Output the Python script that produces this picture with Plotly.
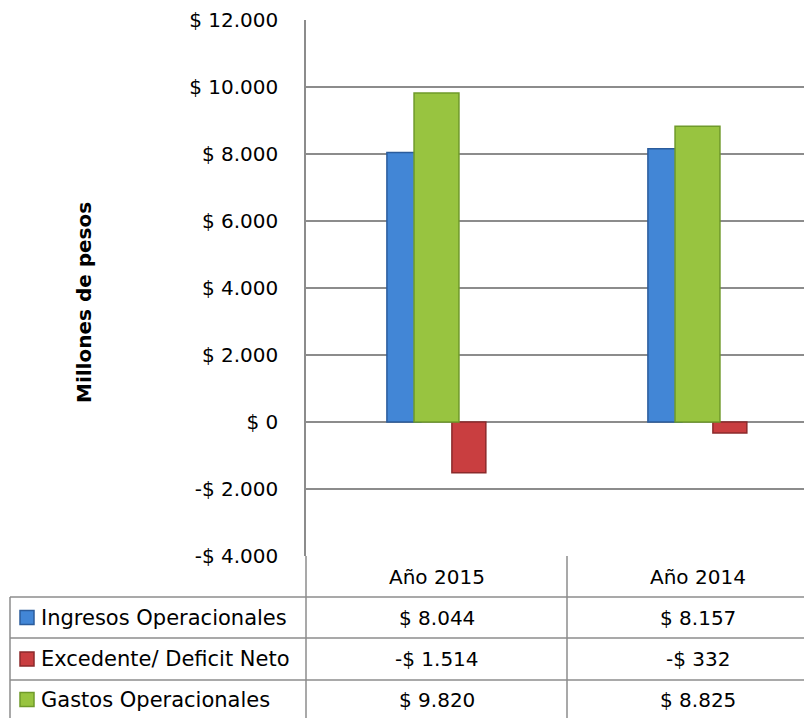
import plotly.graph_objects as go

categories = ["Año 2015", "Año 2014"]
series_names = ["Ingresos Operacionales", "Excedente/ Deficit Neto", "Gastos Operacionales"]
ingresos = [8044, 8157]
excedente = [-1514, -332]
gastos = [9820, 8825]
tick_values = [-4000, -2000, 0, 2000, 4000, 6000, 8000, 10000, 12000]

series_values = [ingresos, excedente, gastos]
colors = ["#4286d6", "#c93e40", "#98c440"]
borders = ["#2b5c9c", "#8c2a2b", "#6f9a2a"]
offsets = [-0.19, 0.059, -0.086]
widths = [0.13, 0.13, 0.172]


def fmt(v):
    s = f"{abs(v):,}".replace(",", ".")
    return ("-$ " if v < 0 else "$ ") + s


FONT = "DejaVu Sans"
PAGE = 8  # body margin of the page
W, H = 812, 710
L, T, B = 298, 12, 162
plot_w = W - L
plot_h = H - T - B
X0 = L + PAGE          # screen x of plot left
Y0 = H - B + PAGE      # screen y of plot bottom


def px(sx):
    return (sx - X0) / plot_w


def py(sy):
    return (Y0 - sy) / plot_h


fig = go.Figure()
xpos = list(range(len(categories)))
for name, vals, c, bc, off, wd in zip(series_names, series_values, colors, borders, offsets, widths):
    fig.add_trace(go.Bar(
        x=xpos, y=vals, name=name, offset=off, width=wd,
        marker=dict(color=c, line=dict(color=bc, width=1.5)),
        showlegend=False,
    ))

shapes = []
line = dict(color="#8c8c8c", width=1.5)
for yy in [597, 638, 680]:
    shapes.append(dict(type="line", xref="paper", yref="paper", x0=px(10), x1=1, y0=py(yy), y1=py(yy), line=line))
shapes.append(dict(type="line", xref="paper", yref="paper", x0=px(10), x1=px(10), y0=py(597), y1=py(720), line=line))
shapes.append(dict(type="line", xref="paper", yref="paper", x0=0, x1=0, y0=py(556), y1=py(720), line=line))
shapes.append(dict(type="line", xref="x", yref="paper", x0=0.5, x1=0.5, y0=py(556), y1=py(720), line=line))

row_centers = [617.5, 659, 699.5]
annotations = []
for cat_i, cat in enumerate(categories):
    annotations.append(dict(text=cat, xref="x", yref="paper", x=cat_i, y=py(577), showarrow=False,
                            xanchor="center", yanchor="middle", font=dict(family=FONT, size=20, color="#000")))
for r, (name, vals, c, bc) in enumerate(zip(series_names, series_values, colors, borders)):
    yc = row_centers[r]
    shapes.append(dict(type="rect", xref="paper", yref="paper", x0=px(20), x1=px(34), y0=py(yc - 7), y1=py(yc + 7),
                       fillcolor=c, line=dict(color=bc, width=1.5)))
    annotations.append(dict(text=name, xref="paper", yref="paper", x=px(39), y=py(yc), showarrow=False,
                            xanchor="left", yanchor="middle", font=dict(family=FONT, size=21, color="#000")))
    for cat_i, v in enumerate(vals):
        annotations.append(dict(text=fmt(v), xref="x", yref="paper", x=cat_i, y=py(yc), showarrow=False,
                                xanchor="center", yanchor="middle", font=dict(family=FONT, size=20, color="#000")))

annotations.append(dict(text="<b>Millones de pesos</b>", xref="paper", yref="paper", x=px(84), y=py(303),
                        textangle=-90, showarrow=False, xanchor="center", yanchor="middle",
                        font=dict(family=FONT, size=20, color="#000")))

fig.update_layout(
    width=W, height=H,
    margin=dict(l=L, r=0, t=T, b=B),
    paper_bgcolor="white", plot_bgcolor="white",
    barmode="overlay",
    xaxis=dict(range=[-0.5, -0.5 + plot_w / 261], showticklabels=False, showgrid=False, zeroline=False,
               showline=False, fixedrange=True),
    yaxis=dict(range=[-4000, 12000], tickvals=tick_values, ticktext=[fmt(v) for v in tick_values],
               showgrid=True, gridcolor="#8c8c8c", gridwidth=1.5, zeroline=False,
               showline=True, linecolor="#8c8c8c", linewidth=1.5, ticks="", ticklabelstandoff=22,
               tickfont=dict(family=FONT, size=20, color="#000")),
    shapes=shapes,
    annotations=annotations,
)

fig.write_html("out.html")
